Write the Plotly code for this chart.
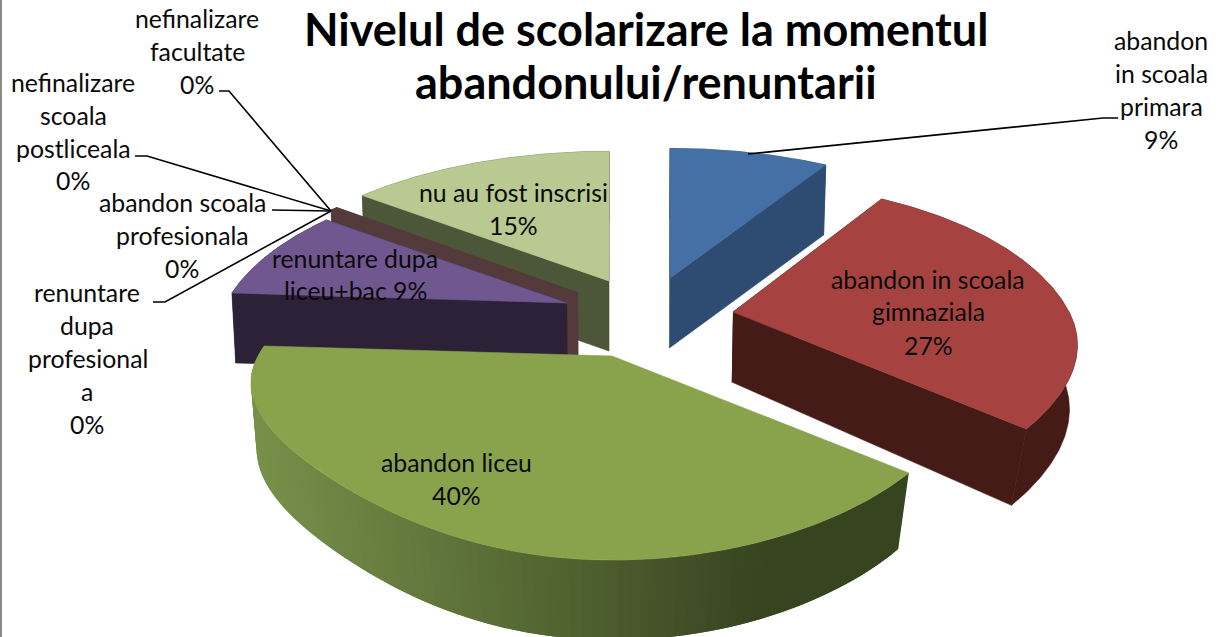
import numpy as np
import plotly.graph_objects as go

# ---- data ----
categories = ["abandon in scoala primara", "abandon in scoala gimnaziala", "abandon liceu",
              "renuntare dupa liceu+bac", "renuntare dupa profesionala",
              "abandon scoala profesionala", "nefinalizare scoala postliceala",
              "nefinalizare facultate", "nu au fost inscrisi"]
values = [9.0, 27.0, 40.0, 9.0, 0.4, 0.0, 0.0, 0.0, 14.6]
title_lines = ["Nivelul de scolarizare la momentul", "abandonului/renuntarii"]

# ---- styling / layout ----
W, H = 1221, 637
top_col = ["#4470a5", "#a64341", "#88a34c", "#71578f", "#553a3b", "#553a3b", "#553a3b", "#553a3b", "#b8c992"]
wall_col = ["#2e4c72", "#451b18", None, "#2c2136", "#553a3b", "#553a3b", "#553a3b", "#553a3b", "#4c5638"]
apex = [(670, 278), (733, 312), (612, 356), (567, 303), (578, 293), (578, 293), (578, 293), (578, 293), (609, 281)]
radius_right = [352, 336, 340, 345, 350, 350, 350, 350, 350]
radius_left = [350, 336, 354, 341, 350, 350, 350, 350, 358]
draw_order = [8, 4, 3, 0, 1, 2]
RY, K, DEPTH, DEPTH_FRONT = 162.0, 0.25, 70.0, 10.0
X_FOCUS = 610.0
GRAD_L, GRAD_R = np.array([0x76, 0x90, 0x4a]), np.array([0x37, 0x44, 0x20])

label_lines = {
    0: [("abandon", 1161, 40), ("in scoala", 1161, 73), ("primara", 1161, 106), ("9%", 1161, 139)],
    1: [("abandon in scoala", 928, 279), ("gimnaziala", 928, 311), ("27%", 928, 345)],
    2: [("abandon liceu", 456, 462), ("40%", 456, 495)],
    3: [("renuntare dupa", 355, 258), ("liceu+bac 9%", 355, 290)],
    4: [("renuntare", 87, 292), ("dupa", 87, 325), ("profesional", 88, 358), ("a", 87, 391), ("0%", 87, 424)],
    5: [("abandon scoala", 182, 202), ("profesionala", 182, 235), ("0%", 182, 268)],
    6: [("nefinalizare", 73, 82), ("scoala", 73, 115), ("postliceala", 73, 148), ("0%", 73, 180)],
    7: [("nefinalizare", 197, 18), ("facultate", 197, 51), ("0%", 197, 84)],
    8: [("nu au fost inscrisi", 513, 192), ("15%", 513, 225)],
}
leaders = [
    ([748, 1103, 1118], [154, 118, 118]),
    ([153, 165, 331], [302, 302, 211]),
    ([272, 331], [210, 211]),
    ([135, 147, 331], [156, 156, 211]),
    ([219, 229, 331], [91, 91, 211]),
]


def project(i, t):
    cos_t, sin_t = np.cos(t), np.sin(t)
    f = 1.0 / (1.0 + K * cos_t)
    lower = cos_t < 0
    amp = np.where(sin_t >= 0, 0.04, 0.08)
    s = 1.0 - np.where(lower, amp * np.sin(2 * t) ** 2 + 0.055 * cos_t ** 4, 0.0)
    r = np.where(sin_t >= 0, radius_right[i], radius_left[i])
    x = apex[i][0] + r * sin_t * f * s
    y = apex[i][1] - RY * cos_t * f * s
    return x, y, DEPTH + DEPTH_FRONT * np.maximum(0.0, -cos_t)


def low_x(x, t=None):
    conv = 0.01 if t is None else 0.01 + 0.04 * np.maximum(0.0, -np.cos(t))
    return x - conv * (np.asarray(x, dtype=float) - X_FOCUS)


def poly(fig, xs, ys, color, lw=0.6):
    fig.add_trace(go.Scatter(x=xs, y=ys, mode="lines", fill="toself", fillcolor=color,
                             line=dict(color=color, width=lw), hoverinfo="skip", showlegend=False))


fracs = np.array(values) / sum(values)
ends = np.cumsum(fracs) * 2 * np.pi
starts = ends - fracs * 2 * np.pi

fig = go.Figure()
for i in draw_order:
    t = np.linspace(starts[i], ends[i], 181)
    x, y, d = project(i, t)
    xl = low_x(x, t)
    ax, ay = apex[i]
    if wall_col[i] is None:
        # outer wall with a horizontal gradient, built from overlapping strips
        n = 90
        idx = np.linspace(0, len(t) - 1, n + 1).astype(int)
        for a, b in zip(idx[:-1], idx[1:]):
            b2 = min(b + 2, len(t) - 1)
            sx, sl, sy, sd = x[a:b2 + 1], xl[a:b2 + 1], y[a:b2 + 1], d[a:b2 + 1]
            k = np.clip((x[a:b + 1].mean() - 262) / (770 - 262), 0, 1)
            c = GRAD_L + (GRAD_R - GRAD_L) * k
            col = "rgb(%d,%d,%d)" % tuple(c)
            poly(fig, np.r_[sx, sl[::-1]], np.r_[sy, (sy + sd)[::-1]], col, lw=0)
    else:
        poly(fig, np.r_[x, xl[::-1]], np.r_[y, (y + d)[::-1]], wall_col[i])
        for j in (0, -1):
            poly(fig, [ax, x[j], xl[j], low_x(ax)], [ay, y[j], y[j] + d[j], ay + DEPTH], wall_col[i])
    poly(fig, np.r_[ax, x, ax], np.r_[ay, y, ay], top_col[i])

for lx, ly in leaders:
    fig.add_trace(go.Scatter(x=lx, y=ly, mode="lines", line=dict(color="#000000", width=1.6),
                             hoverinfo="skip", showlegend=False))

ann = []
for lines in label_lines.values():
    for txt, px, py in lines:
        ann.append(dict(x=px, y=py, text=txt, showarrow=False, xanchor="center", yanchor="middle",
                        font=dict(family="Lato", size=24.8, color="#0a0a0a")))
for txt, py in zip(title_lines, (29, 82)):
    ann.append(dict(x=646, y=py, text="<b>%s</b>" % txt, showarrow=False, xanchor="center", yanchor="middle",
                    font=dict(family="Lato", size=45, color="#000000")))

fig.update_layout(
    width=W, height=H, margin=dict(l=0, r=0, t=0, b=0), showlegend=False,
    paper_bgcolor="#ffffff", plot_bgcolor="#ffffff", annotations=ann,
    xaxis=dict(range=[0, W], visible=False, fixedrange=True),
    yaxis=dict(range=[H, 0], visible=False, fixedrange=True),
    shapes=[dict(type="line", x0=1, x1=1, y0=0, y1=H, line=dict(color="#8a8a8a", width=2))],
)
fig.write_html("out.html", config={"displayModeBar": False},
               post_script="document.body.style.margin='0';document.body.style.overflow='hidden';")
